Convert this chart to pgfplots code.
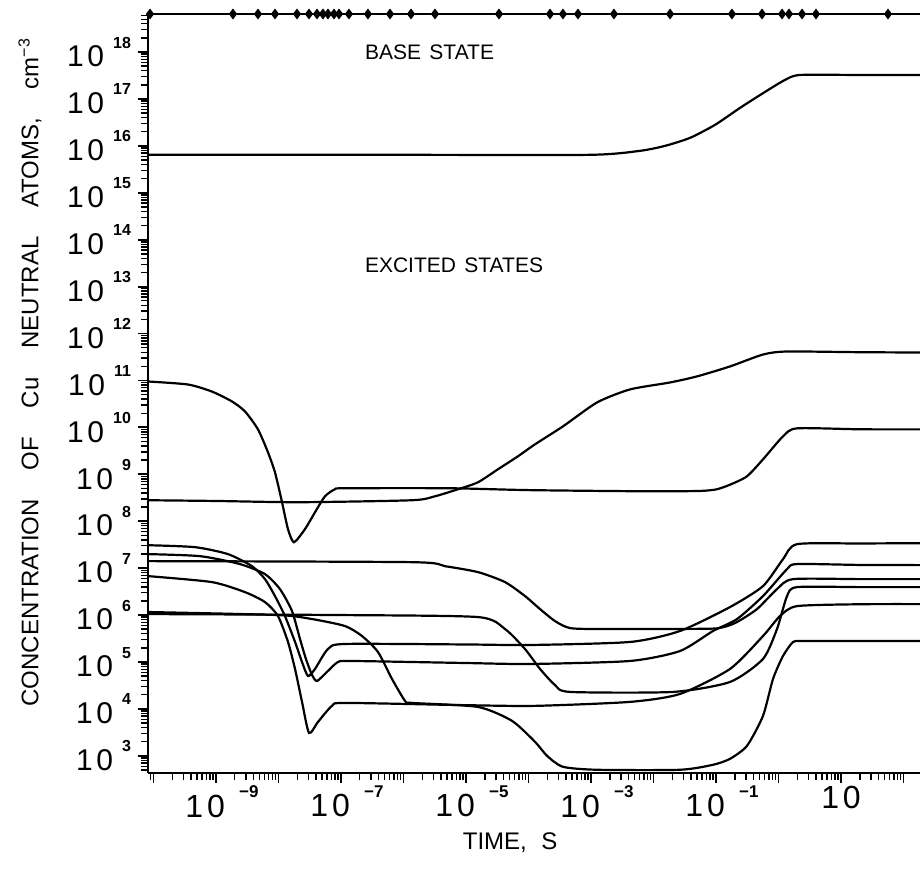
\documentclass[border=0pt]{standalone}
\usepackage{fontspec}
\setmainfont{Liberation Sans}
\usepackage{graphicx}
\usepackage{pgfplots}
\pgfplotsset{compat=1.18}
\newcommand{\tl}[1]{1\kern0.12em0\kern0.3em\raisebox{0.62em}{\fontsize{8}{9}\selectfont\bfseries #1}}
\newcommand{\tx}[1]{1\kern0.12em0\kern0.45em\raisebox{0.6em}{\fontsize{8.5}{9}\selectfont\bfseries #1}}
\def\minorx{1e-11}
\foreach \e in {-11,...,2}{\foreach \m in {2,...,9}{\xdef\minorx{\minorx,\m e\e}}}
\def\minory{1e1}
\foreach \e in {2,...,18}{\foreach \m in {2,...,9}{\xdef\minory{\minory,\m e\e}}}
\begin{document}
\begin{tikzpicture}
\begin{axis}[
  xmode=log, ymode=log,
  scale only axis, width=386pt, height=379.5pt,
  xmin=8.17e-11, xmax=183.6, ymin=430, ymax=6.46e18,
  axis x line*=bottom, axis y line*=left,
  axis line style={line width=1pt, -},
  clip=false,
  tick align=outside,
  major tick length=5pt, minor tick length=3.5pt,
  every tick/.style={black, line width=0.9pt},
  minor tick style={line width=0.7pt},
  xtick={1e-10,1e-9,1e-8,1e-7,1e-6,1e-5,1e-4,1e-3,1e-2,1e-1,1e0,1e1,1e2},
  xticklabels={,\tx{−9},,\tx{−7},,\tx{−5},,\tx{−3},,\tx{−1},,\kern-6pt1\kern0.12em0,},
  minor xtick/.expand once=\minorx,
  ytick={1e3,1e4,1e5,1e6,1e7,1e8,1e9,1e10,1e11,1e12,1e13,1e14,1e15,1e16,1e17,1e18},
  yticklabels={\tl{3},\tl{4},\tl{5},\tl{6},\tl{7},\tl{8},\tl{9},\tl{10},\tl{11},\tl{12},\tl{13},\tl{14},\tl{15},\tl{16},\tl{17},\tl{18}},
  minor ytick/.expand once=\minory,
  yticklabel style={font=\fontsize{15}{16}\selectfont},
  xticklabel style={font=\fontsize{16}{17}\selectfont, xshift=3pt, yshift=2pt},
  every axis y label/.style={at={(axis description cs:-0.153,0.528)}, rotate=90, anchor=center},
  every axis x label/.style={at={(axis description cs:0.469,-0.092)}, anchor=center},
  ylabel={\fontsize{12}{13}\selectfont CONCENTRATION\hspace{1.2em}OF\hspace{1.2em}Cu\hspace{1.2em}NEUTRAL\hspace{1.2em}ATOMS,\hspace{1.2em}cm\textsuperscript{−3}},
  xlabel={\fontsize{12}{14}\selectfont TIME,\hspace{0.6em}S},
  curve/.style={black, line width=1.1pt, smooth, tension=0.4, mark=none, solid},
]
% top frame line with diamond markers
\addplot[black, sharp plot, line width=1pt, mark=none] coordinates {(8.17e-11,6.46e18) (183.6,6.46e18)};
\addplot[black, only marks, mark=diamond*, mark size=2.4pt] coordinates {
(8.8e-11,6.46e18) (1.87e-9,6.46e18) (4.70e-9,6.46e18) (8.79e-9,6.46e18) (1.98e-8,6.46e18)
(3.08e-8,6.46e18) (4.13e-8,6.46e18) (5.15e-8,6.46e18) (6.19e-8,6.46e18) (7.73e-8,6.46e18)
(9.29e-8,6.46e18) (1.34e-7,6.46e18) (2.70e-7,6.46e18) (6.08e-7,6.46e18) (1.32e-6,6.46e18)
(3.19e-6,6.46e18) (3.37e-5,6.46e18) (2.21e-4,6.46e18) (3.56e-4,6.46e18) (6.19e-4,6.46e18)
(2.33e-3,6.46e18) (1.84e-2,6.46e18) (0.180,6.46e18) (0.545,6.46e18) (1.14,6.46e18)
(1.47,6.46e18) (2.38,6.46e18) (3.98,6.46e18) (56.5,6.46e18)};
% base state
\addplot[curve] coordinates {(8.17e-11,6.44e15) (1e-6,6.44e15) (9.64e-4,6.44e15) (6.08e-3,7.83e15) (1.53e-2,1.0e16)
(3.84e-2,1.48e16) (9.64e-2,2.80e16) (0.242,6.44e16) (0.608,1.41e17) (1.27,2.54e17) (2.21,3.24e17) (20,3.24e17) (183.6,3.24e17)};
% excited: curve A (starts 1e11)
\addplot[curve] coordinates {(8.17e-11,9.5e10) (3.56e-10,8.2e10) (8.6e-10,5.8e10) (1.80e-9,3.57e10) (2.91e-9,2.19e10)
(4.70e-9,9.06e9) (6.79e-9,2.94e9) (8.79e-9,1.10e9) (1.14e-8,2.54e8) (1.42e-8,6.76e7) (1.77e-8,3.57e7)
(2.65e-8,6.76e7) (3.84e-8,1.55e8) (5.55e-8,3.40e8) (8.02e-8,4.80e8) (1.16e-7,5.04e8) (5.55e-6,5.04e8)
(1e-4,4.6e8) (6.08e-3,4.35e8) (0.05,4.4e8) (0.1,4.75e8) (0.1675,6.0e8) (0.313,9.06e8) (0.565,2.08e9) (1.18,6.44e9)
(1.98,9.53e9) (20,9.1e9) (183.6,9.06e9)};
% curve B
\addplot[curve] coordinates {(8.17e-11,2.80e8) (1e-9,2.7e8) (2.21e-8,2.54e8) (1.37e-6,2.80e8) (3.19e-6,3.40e8)
(7.45e-6,4.80e8) (1.556e-5,6.76e8) (3.25e-5,1.28e9) (6.79e-5,2.42e9) (1.27e-4,4.35e9) (3.56e-4,1.05e10)
(1.25e-3,3.40e10) (4.21e-3,6.44e10) (1.84e-2,9.06e10) (4.97e-2,1.22e11) (0.1675,1.99e11) (0.565,3.57e11)
(1.37,4.14e11) (20,4.0e11) (183.6,3.94e11)};
% P1
\addplot[curve] coordinates {(8.17e-11,3.08e7) (4.61e-10,2.80e7) (1.556e-9,1.99e7) (3.77e-9,1.10e7) (6.08e-9,5.83e6)
(8.79e-9,2.54e6) (1.27e-8,9.53e5) (1.84e-8,2.67e5) (2.38e-8,1.0e5) (2.96e-8,5.03e4) (3.84e-8,7.10e4)
(6.19e-8,1.89e5) (1.16e-7,2.42e5) (1.0e-5,2.36e5) (1.06e-4,2.30e5) (4.21e-3,2.67e5) (2.65e-2,4.57e5)
(0.1675,1.48e6) (0.565,4.14e6) (1.18,1.55e7) (1.98,3.24e7) (20,3.35e7) (183.6,3.40e7)};
% P2
\addplot[curve] coordinates {(8.17e-11,1.99e7) (5.55e-10,1.80e7) (2.42e-9,1.22e7) (6.08e-9,7.45e6) (1.057e-8,3.57e6)
(1.644e-8,1.22e6) (2.21e-8,3.08e5) (2.75e-8,1.16e5) (3.44e-8,5.28e4) (4.13e-8,3.94e4) (5.97e-8,6.13e4)
(8.95e-8,1.0e5) (1.50e-7,1.05e5) (1.0e-5,9.5e4) (1.06e-4,9.06e4) (4.21e-3,1.05e5) (2.65e-2,1.71e5)
(8.95e-2,4.57e5) (0.217,8.22e5) (0.565,2.54e6) (1.37,9.53e6) (1.98,1.22e7) (20,1.17e7) (183.6,1.16e7)};
% P4 (deep dip)
\addplot[curve] coordinates {(8.17e-11,6.76e6) (8.63e-10,5.04e6) (2.91e-9,3.08e6) (6.08e-9,1.89e6) (9.82e-9,9.53e5)
(1.42e-8,2.67e5) (1.84e-8,7.10e4) (2.38e-8,1.41e4) (3.08e-8,3.08e3) (4.29e-8,5.28e3) (7.18e-8,1.16e4)
(1.16e-7,1.34e4) (1.0e-5,1.2e4) (1.27e-4,1.16e4) (4.21e-3,1.41e4) (2.65e-2,2.08e4) (0.1675,7.10e4)
(0.565,3.57e5) (1.057,9.53e5) (1.98,1.55e6) (20,1.7e6) (183.6,1.71e6)};
% P3
\addplot[curve] coordinates {(8.17e-11,1.05e6) (1.0e-7,1.0e6) (1.556e-5,9.06e5) (4.21e-5,5.04e5) (8.79e-5,1.89e5)
(1.53e-4,7.10e4) (2.65e-4,3.24e4) (4.61e-4,2.30e4) (2.05e-2,2.30e4) (0.1675,3.75e4) (0.565,1.16e5)
(0.946,5.04e5) (1.37,2.54e6) (1.98,3.94e6) (20,3.94e6) (183.6,3.94e6)};
% P5
\addplot[curve] coordinates {(8.17e-11,1.41e7) (1.37e-6,1.34e7) (4.61e-6,1.10e7) (1.556e-5,8.22e6) (4.21e-5,5.04e6)
(8.79e-5,2.54e6) (1.53e-4,1.34e6) (2.65e-4,7.45e5) (4.61e-4,5.28e5) (1.39e-3,5.04e5) (0.07,5.1e5) (0.13,5.5e5)
(0.217,7.10e5) (0.453,1.34e6) (0.946,3.57e6) (1.71,5.83e6) (20,5.83e6) (183.6,5.83e6)};
% P6 (two-step)
\addplot[curve] coordinates {(8.17e-11,1.16e6) (9.82e-9,1.0e6) (3.44e-8,8.22e5) (1.16e-7,5.83e5) (2.17e-7,3.57e5)
(3.91e-7,1.63e5) (6.55e-7,4.35e4) (1.06e-6,1.48e4) (1.37e-6,1.34e4) (1.556e-5,1.10e4) (5.44e-5,5.56e3)
(1.27e-4,1.99e3) (1.98e-4,1.0e3) (3.56e-4,5.83e2) (1.25e-3,5.04e2) (2.65e-2,5.04e2) (8.95e-2,6.44e2)
(0.1675,8.63e2) (0.313,1.63e3) (0.565,7.10e3) (0.817,4.35e4) (1.18,1.34e5) (1.71,2.67e5) (2.47,2.80e5)
(20,2.8e5) (183.6,2.80e5)};
\node[anchor=west, font=\fontsize{10.5}{12}\selectfont] at (rel axis cs:0.272,0.950) {BASE\hspace{0.4em}STATE};
\node[anchor=west, font=\fontsize{10.5}{12}\selectfont] at (rel axis cs:0.272,0.669) {EXCITED\hspace{0.4em}STATES};
\coordinate (SW) at (rel axis cs:0,0);
\coordinate (NE) at (rel axis cs:1,1);
\end{axis}
\pgfresetboundingbox
\path[use as bounding box] ([shift={(-74pt,-51pt)}]SW) rectangle ([shift={(0pt,7pt)}]NE);
\end{tikzpicture}
\end{document}
